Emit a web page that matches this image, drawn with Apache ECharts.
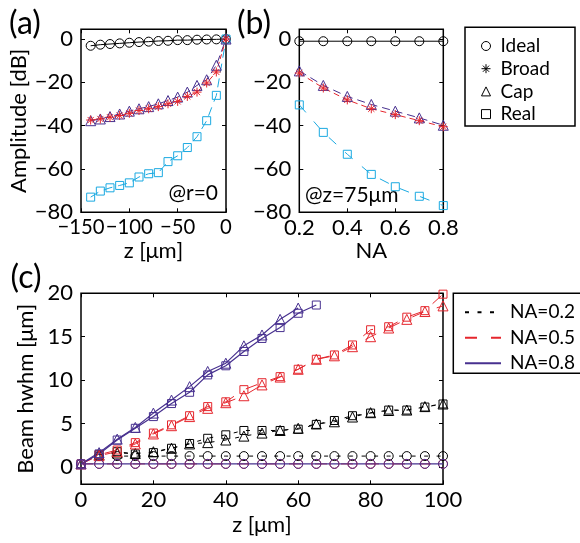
<!DOCTYPE html>
<html>
<head>
<meta charset="utf-8">
<script src="https://cdn.jsdelivr.net/npm/echarts@6/dist/echarts.min.js"></script>
<style>
  html, body { margin: 0; padding: 0; background: #fff; }
  #chart { width: 580px; height: 543px; }
</style>
</head>
<body>
<div id="chart"></div>
<script>
// ---- (a) on-axis amplitude vs. depth z (r = 0) ----
const zAxial = [-140, -130, -120, -110, -100, -90, -80, -70, -60, -50, -40, -30, -20, -10, 0];
const ampIdealZ = [-3.1, -2.6, -2.3, -2.0, -1.7, -1.4, -1.2, -0.9, -0.8, -0.5, -0.5, -0.3, -0.2, -0.15, 0];
const ampBroadZ = [-37.4, -36.9, -36.1, -35.3, -34.3, -33.0, -32.2, -31.2, -29.9, -28.8, -26.5, -24.5, -20.3, -15.2, 0];
const ampCapZ   = [-37.7, -36.9, -35.8, -34.6, -33.3, -32.2, -31.2, -29.9, -28.4, -26.8, -24.5, -21.4, -18.8, -12.1, 0];
const ampRealZ  = [-73.0, -70.2, -68.7, -67.6, -66.4, -63.7, -62.2, -61.7, -56.6, -53.9, -50.1, -45.1, -37.7, -26.0, 0];

// ---- (b) amplitude vs. numerical aperture at z = 75 um ----
const naValues   = [0.2, 0.3, 0.4, 0.5, 0.6, 0.7, 0.8];
const ampIdealNA = [-1.0, -1.0, -1.0, -1.0, -1.0, -1.0, -1.0];
const ampBroadNA = [-15.7, -22.6, -28.1, -32.2, -34.9, -37.7, -40.5];
const ampCapNA   = [-14.7, -21.4, -26.5, -30.2, -33.3, -36.4, -39.8];
const ampRealNA  = [-30.4, -43.1, -53.2, -62.5, -68.2, -72.6, -76.9];

// ---- (c) beam half width at half maximum vs. depth ----
const zBeam   = [0, 5, 10, 15, 20, 25, 30, 35, 40, 45, 50, 55, 60, 65, 70, 75, 80, 85, 90, 95, 100];
const zBeam02 = [5, 10, 15, 20, 25, 30, 35, 40, 45, 50, 55, 60, 65, 70, 75, 80, 85, 90, 95, 100];
const zCap08  = [0, 5, 10, 15, 20, 25, 30, 35, 40, 45, 50, 55, 60];
const zReal08 = [0, 5, 10, 15, 20, 25, 30, 35, 40, 45, 50, 55, 60, 65];

const hwIdeal02 = [1.25, 1.25, 1.25, 1.25, 1.25, 1.25, 1.25, 1.25, 1.25, 1.25, 1.25, 1.25, 1.25, 1.25, 1.25, 1.25, 1.25, 1.25, 1.25, 1.25];
const hwCap02   = [1.4, 1.6, 1.55, 1.75, 2.15, 2.65, 2.8, 3.1, 3.55, 3.9, 4.2, 4.45, 4.95, 5.2, 5.75, 6.25, 6.5, 6.55, 6.95, 7.25];
const hwReal02  = [1.4, 1.75, 1.5, 1.65, 2.15, 2.7, 3.3, 3.7, 4.2, 4.2, 4.2, 4.35, 4.9, 5.35, 5.9, 6.2, 6.55, 6.55, 6.9, 7.25];

const hwIdeal05 = [0.35, 0.35, 0.35, 0.35, 0.35, 0.35, 0.35, 0.35, 0.35, 0.35, 0.35, 0.35, 0.35, 0.35, 0.35, 0.35, 0.35, 0.35, 0.35, 0.35, 0.35];
const hwCap05   = [0.35, 1.3, 1.75, 2.65, 3.8, 4.75, 5.8, 6.75, 7.4, 8.2, 9.45, 10.35, 11.25, 12.4, 12.8, 13.85, 15.0, 16.0, 17.0, 17.9, 18.55];
const hwReal05  = [0.35, 1.4, 1.95, 2.8, 3.9, 4.85, 5.9, 6.95, 7.5, 8.9, 9.7, 10.4, 11.25, 12.4, 12.9, 14.05, 15.8, 16.15, 17.25, 18.0, 19.9];

const hwIdeal08 = [0.35, 0.35, 0.35, 0.35, 0.35, 0.35, 0.35, 0.35, 0.35, 0.35, 0.35, 0.35, 0.35, 0.35, 0.35, 0.35, 0.35, 0.35, 0.35, 0.35, 0.35];
const hwCap08   = [0.35, 1.65, 3.2, 4.55, 6.2, 7.7, 9.25, 11.0, 11.95, 13.95, 15.2, 17.0, 18.3];
const hwReal08  = [0.35, 1.5, 3.1, 4.45, 5.8, 7.3, 8.6, 10.6, 11.65, 13.3, 14.8, 16.05, 17.7, 18.65];

// ---- tick labels ----
const ampTicks    = [-80, -60, -40, -20, 0];
const zAxialTicks = [-150, -100, -50, 0];
const naTicks     = [0.2, 0.4, 0.6, 0.8];
const hwTicks     = [0, 5, 10, 15, 20];
const zBeamTicks  = [0, 20, 40, 60, 80, 100];

const FONT = 'Lato';
const RED = '#E5262D';
const PURPLE = '#47308F';
const CYAN = '#1AA9E1';
const BLACK = '#000000';
const ASTERISK = 'path://M5 0L5 10M0 5L10 5M1.6 1.6L8.4 8.4M8.4 1.6L1.6 8.4';

const pairs = (xs, ys) => xs.map((x, i) => [x, ys[i]]);
const minusFmt = v => String(v).replace('-', '\u2212');

const tickStyle = { show: true, inside: true, length: 4, lineStyle: { color: '#000', width: 1 } };

function mainAxis(pos, grid, min, max, ticks, name, nameGap, labelSize) {
  const isX = pos === 'bottom';
  return {
    type: 'value', gridIndex: grid, position: pos, min: min, max: max,
    axisLine: { show: false, onZero: false },
    splitLine: { show: false },
    axisTick: Object.assign({ customValues: ticks }, tickStyle),
    axisLabel: {
      customValues: ticks, formatter: minusFmt, color: '#000',
      showMinLabel: true, showMaxLabel: true, hideOverlap: false,
      fontFamily: FONT, fontSize: labelSize || 22, margin: isX ? 5 : 8
    },
    name: name, nameLocation: 'middle', nameGap: nameGap,
    nameTextStyle: { fontFamily: FONT, fontSize: 22, color: '#000' }
  };
}
function mirrorAxis(pos, grid, min, max, ticks) {
  return {
    type: 'value', gridIndex: grid, position: pos, min: min, max: max,
    axisLine: { show: false, onZero: false }, splitLine: { show: false },
    axisTick: Object.assign({ customValues: ticks }, tickStyle),
    axisLabel: { show: false }
  };
}

function markerSeries(name, xIdx, yIdx, data, symbol, size, color, lineType, lineWidth) {
  return {
    name: name, type: 'line', xAxisIndex: xIdx, yAxisIndex: yIdx,
    data: data, symbol: symbol, symbolSize: size, showSymbol: true,
    clip: false, animation: false,
    itemStyle: { color: 'rgba(0,0,0,0)', borderColor: color, borderWidth: 1 },
    lineStyle: { color: color, width: lineWidth || 1, type: lineType },
    emphasis: { disabled: true }
  };
}
// empty series that only feed the two key boxes
function keySeries(name, color, lineType, width) {
  return {
    name: name, type: 'line', xAxisIndex: 4, yAxisIndex: 4, data: [],
    symbol: 'none', itemStyle: { color: 'rgba(0,0,0,0)', borderWidth: 0 },
    lineStyle: { color: color, type: lineType, width: width }
  };
}
function markerKey(name) {
  return { name: name, type: 'line', xAxisIndex: 0, yAxisIndex: 0, data: [], symbol: 'none' };
}

const dash02 = [4, 8.5];
const dash05 = [12, 14];
const series = [
  // (a)
  markerSeries('Ideal a', 0, 0, pairs(zAxial, ampIdealZ), 'circle', 9, BLACK, 'solid'),
  markerSeries('Real a', 0, 0, pairs(zAxial, ampRealZ), 'rect', 8, CYAN, [9, 6]),
  markerSeries('Cap a', 0, 0, pairs(zAxial, ampCapZ), 'triangle', 10, PURPLE, [8, 4]),
  markerSeries('Broad a', 0, 0, pairs(zAxial, ampBroadZ), ASTERISK, 9, RED, [5, 3]),
  // (b)
  markerSeries('Ideal b', 2, 2, pairs(naValues, ampIdealNA), 'circle', 9, BLACK, 'solid'),
  markerSeries('Real b', 2, 2, pairs(naValues, ampRealNA), 'rect', 8, CYAN, [10, 12]),
  markerSeries('Cap b', 2, 2, pairs(naValues, ampCapNA), 'triangle', 10, PURPLE, [8, 5]),
  markerSeries('Broad b', 2, 2, pairs(naValues, ampBroadNA), ASTERISK, 9, RED, [6, 4]),
  // (c)
  markerSeries('Ideal 0.2', 4, 4, pairs(zBeam02, hwIdeal02), 'circle', 9, BLACK, dash02),
  markerSeries('Cap 0.2', 4, 4, pairs(zBeam02, hwCap02), 'triangle', 10, BLACK, dash02),
  markerSeries('Real 0.2', 4, 4, pairs(zBeam02, hwReal02), 'rect', 8, BLACK, dash02),
  markerSeries('Ideal 0.5', 4, 4, pairs(zBeam, hwIdeal05), 'circle', 9, RED, dash05),
  markerSeries('Cap 0.5', 4, 4, pairs(zBeam, hwCap05), 'triangle', 10, RED, dash05),
  markerSeries('Real 0.5', 4, 4, pairs(zBeam, hwReal05), 'rect', 8, RED, dash05),
  markerSeries('Ideal 0.8', 4, 4, pairs(zBeam, hwIdeal08), 'circle', 9, PURPLE, 'solid', 1.2),
  markerSeries('Cap 0.8', 4, 4, pairs(zCap08, hwCap08), 'triangle', 10, PURPLE, 'solid', 1.2),
  markerSeries('Real 0.8', 4, 4, pairs(zReal08, hwReal08), 'rect', 8, PURPLE, 'solid', 1.2),
  // key entries
  markerKey('Ideal'), markerKey('Broad'), markerKey('Cap'), markerKey('Real'),
  keySeries('NA=0.2', BLACK, dash02, 1),
  keySeries('NA=0.5', RED, dash05, 1),
  keySeries('NA=0.8', PURPLE, 'solid', 1.5)
];

const keyItem = (name, icon) => ({
  name: name, icon: icon,
  itemStyle: { color: 'rgba(0,0,0,0)', borderColor: '#000', borderWidth: 1 }
});

const gridBox = { show: true, borderColor: '#000', borderWidth: 1.5, backgroundColor: 'transparent', containLabel: false };

const option = {
  backgroundColor: '#fff',
  animation: false,
  grid: [
    Object.assign({ left: 81, top: 29.3, width: 145, height: 183 }, gridBox),
    Object.assign({ left: 299.3, top: 29.3, width: 144, height: 183 }, gridBox),
    Object.assign({ left: 81, top: 293.3, width: 362, height: 191 }, gridBox)
  ],
  xAxis: [
    mainAxis('bottom', 0, -150, 0, zAxialTicks, 'z [\u03bcm]', 28, 20.3),
    mirrorAxis('top', 0, -150, 0, zAxialTicks),
    mainAxis('bottom', 1, 0.2, 0.8, naTicks, 'NA', 28),
    mirrorAxis('top', 1, 0.2, 0.8, naTicks),
    mainAxis('bottom', 2, 0, 100, zBeamTicks, 'z [\u03bcm]', 30),
    mirrorAxis('top', 2, 0, 100, zBeamTicks)
  ],
  yAxis: [
    mainAxis('left', 0, -80, 4.5, ampTicks, 'Amplitude [dB]', 51),
    mirrorAxis('right', 0, -80, 4.5, ampTicks),
    mainAxis('left', 1, -80, 4.5, ampTicks, '', 0),
    mirrorAxis('right', 1, -80, 4.5, ampTicks),
    mainAxis('left', 2, -2, 20, hwTicks, 'Beam hwhm [\u03bcm]', 32),
    mirrorAxis('right', 2, -2, 20, hwTicks)
  ],
  legend: [
    {
      orient: 'vertical', left: 476, top: 31, itemWidth: 9, itemHeight: 9, itemGap: 2.7,
      selectedMode: false,
      textStyle: { fontFamily: FONT, fontSize: 19, lineHeight: 20, color: '#000', padding: [0, 0, 0, 5] },
      data: [keyItem('Ideal', 'circle'), keyItem('Broad', ASTERISK), keyItem('Cap', 'triangle'), keyItem('Real', 'rect')]
    },
    {
      orient: 'vertical', left: 459, top: 297.3, itemWidth: 36, itemHeight: 14, itemGap: 5.5,
      selectedMode: false,
      textStyle: { fontFamily: FONT, fontSize: 19, lineHeight: 20, color: '#000', padding: [0, 0, 0, 4] },
      data: ['NA=0.2', 'NA=0.5', 'NA=0.8']
    }
  ],
  graphic: [
    { type: 'rect', shape: { x: 465, y: 27.3, width: 110, height: 98.7 },
      style: { fill: 'none', stroke: '#000', lineWidth: 1.5 } },
    { type: 'rect', shape: { x: 453.3, y: 293.3, width: 130, height: 80 },
      style: { fill: 'none', stroke: '#000', lineWidth: 1.5 } },
    { type: 'text', x: 25, y: 24, style: { text: '(a)', font: '32px ' + FONT, fill: '#000', textAlign: 'center', textVerticalAlign: 'middle' } },
    { type: 'text', x: 254, y: 24, style: { text: '(b)', font: '32px ' + FONT, fill: '#000', textAlign: 'center', textVerticalAlign: 'middle' } },
    { type: 'text', x: 26, y: 278, style: { text: '(c)', font: '32px ' + FONT, fill: '#000', textAlign: 'center', textVerticalAlign: 'middle' } },
    { type: 'text', x: 218, y: 193, style: { text: '@r=0', font: '21px ' + FONT, fill: '#000', textAlign: 'right', textVerticalAlign: 'middle' } },
    { type: 'text', x: 305, y: 195, style: { text: '@z=75\u03bcm', font: '21px ' + FONT, fill: '#000', textAlign: 'left', textVerticalAlign: 'middle' } }
  ],
  series: series
};

const chart = echarts.init(document.getElementById('chart'), null, { renderer: 'canvas' });
chart.setOption(option);
</script>
</body>
</html>
